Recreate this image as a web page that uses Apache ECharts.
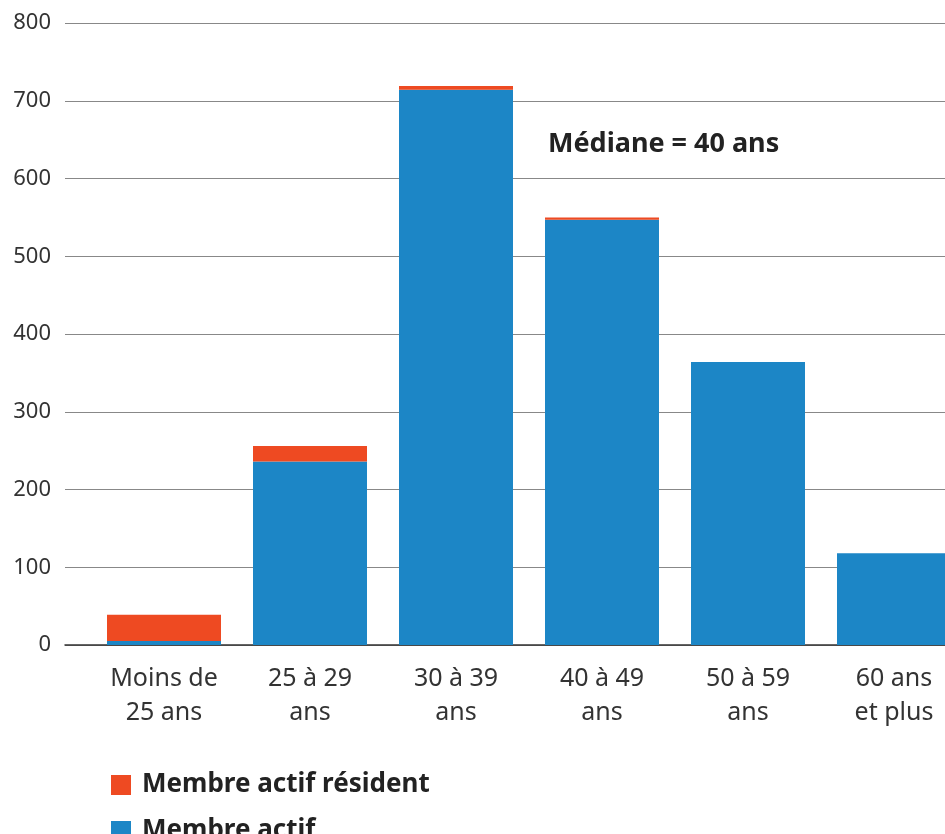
<!DOCTYPE html>
<html>
<head>
<meta charset="utf-8">
<script src="https://cdn.jsdelivr.net/npm/echarts@6/dist/echarts.min.js"></script>
<style>
  html, body { margin: 0; padding: 0; background: #fff; }
  #bar-chart { width: 945px; height: 834px; }
</style>
</head>
<body>
<div id="bar-chart"></div>
<script>
// tranches d'age
const categories = ['Moins de\n25 ans', '25 à 29\nans', '30 à 39\nans', '40 à 49\nans', '50 à 59\nans', '60 ans\net plus']
const actifs = [5, 236, 714, 547, 364, 118]
const residents = [34, 20, 5, 3, 0, 0]
const yTicks = [0, 100, 200, 300, 400, 500, 600, 700, 800]

const font = '"Noto Sans", "Open Sans", sans-serif'

let option = {
  animation: false,
  color: ['#ee4a22', '#1c86c6'],
  grid: [
    // fond : lignes de grille + axe
    {left: 65, right: 0, top: 23, bottom: 189},
    // barres (la derniere depasse un peu a droite)
    {left: 91, width: 876, top: 23, bottom: 189, outerBoundsMode: 'none'}
  ],
  legend: {
    data: ['Membre actif résident', 'Membre actif'],
    orient: 'vertical',
    left: 106,
    top: 764,
    height: 90,
    icon: 'rect',
    itemWidth: 20,
    itemHeight: 20,
    itemGap: 14,
    textStyle: {
      fontFamily: font,
      fontSize: 26,
      fontWeight: 'bold',
      color: '#222',
      lineHeight: 30,
      padding: [2, 0, 0, 6]
    }
  },
  xAxis: [
    {
      gridIndex: 0,
      type: 'category',
      data: categories,
      axisLine: {show: true, lineStyle: {color: '#333', width: 1.5}},
      axisTick: {show: false},
      axisLabel: {show: false}
    },
    {
      gridIndex: 1,
      type: 'category',
      data: categories,
      axisLine: {show: false},
      axisTick: {show: false},
      axisLabel: {
        margin: 17,
        fontFamily: font,
        fontSize: 25,
        lineHeight: 34,
        color: '#333'
      }
    }
  ],
  yAxis: [
    {
      gridIndex: 0,
      type: 'value',
      min: yTicks[0],
      max: yTicks[yTicks.length - 1],
      interval: 100,
      axisLine: {show: false},
      axisTick: {show: false},
      axisLabel: {
        margin: 14,
        fontFamily: font,
        fontSize: 22,
        color: '#333'
      },
      splitLine: {show: true, lineStyle: {color: '#888', width: 1}}
    },
    {
      gridIndex: 1,
      type: 'value',
      min: yTicks[0],
      max: yTicks[yTicks.length - 1],
      interval: 100,
      show: false,
      splitLine: {show: false}
    }
  ],
  series: [
    {
      name: 'Membre actif',
      type: 'bar',
      stack: 'total',
      xAxisIndex: 1,
      yAxisIndex: 1,
      barWidth: 114,
      itemStyle: {color: '#1c86c6'},
      data: actifs
    },
    {
      name: 'Membre actif résident',
      type: 'bar',
      stack: 'total',
      xAxisIndex: 1,
      yAxisIndex: 1,
      barWidth: 114,
      itemStyle: {color: '#ee4a22'},
      data: residents
    }
  ],
  graphic: [
    {
      type: 'text',
      left: 548,
      top: 131,
      style: {
        text: 'Médiane = 40 ans',
        fontFamily: font,
        fontSize: 27,
        fontWeight: 'bold',
        fill: '#222'
      }
    }
  ]
}

let myChart = echarts.init(document.getElementById('bar-chart'))
myChart.setOption(option)
</script>
</body>
</html>
